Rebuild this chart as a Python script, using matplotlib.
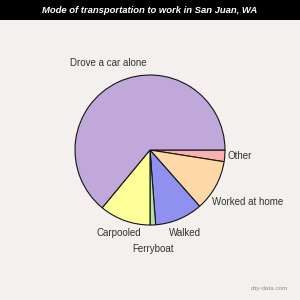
import matplotlib.pyplot as plt
from matplotlib.patches import Rectangle

# data (percent), clockwise from 3 o'clock
modes = ["Other", "Worked at home", "Walked", "Ferryboat", "Carpooled", "Drove a car alone"]
shares = [2.5, 11.0, 10.3, 1.2, 11.0, 64.0]
colors = ["#f8b0b0", "#ffd8a8", "#9090f0", "#b8e0a0", "#ffff99", "#c0a8da"]

# label spots (pie units, radius = 1)
label_x = [1.04, 0.83, 0.46, 0.04, -0.42, -0.55]
label_y = [-0.08, -0.69, -1.10, -1.32, -1.11, 1.16]
label_ha = ["left", "left", "center", "center", "center", "center"]

bg = "#f3f0ed"
plt.rcParams["font.family"] = ["Liberation Sans", "DejaVu Sans"]

fig = plt.figure(figsize=(3, 3), dpi=100, facecolor=bg)

# black title bar
fig.patches.append(Rectangle((0, 0.933), 1, 0.067, transform=fig.transFigure,
                             facecolor="black", edgecolor="none"))
fig.text(0.5, 0.966, "Mode of transportation to work in San Juan, WA", color="white",
         ha="center", va="center", fontsize=6.8, fontweight="bold", fontstyle="italic")

ax = fig.add_axes([0.25, 0.25, 0.5, 0.5])
ax.set_facecolor(bg)
ax.pie(shares, colors=colors, startangle=0, counterclock=False,
       wedgeprops=dict(edgecolor="#151515", linewidth=0.8))
ax.set_xlim(-1, 1)
ax.set_ylim(-1, 1)
ax.set_aspect("equal")
ax.axis("off")

for name, x, y, ha in zip(modes, label_x, label_y, label_ha):
    ax.text(x, y, name, ha=ha, va="center", fontsize=7, color="#333333", clip_on=False)

fig.text(0.96, 0.037, "city-data.com", ha="right", va="center", fontsize=4.5, color="#8090a0")

fig.savefig("out.png", dpi=100, facecolor=bg)
